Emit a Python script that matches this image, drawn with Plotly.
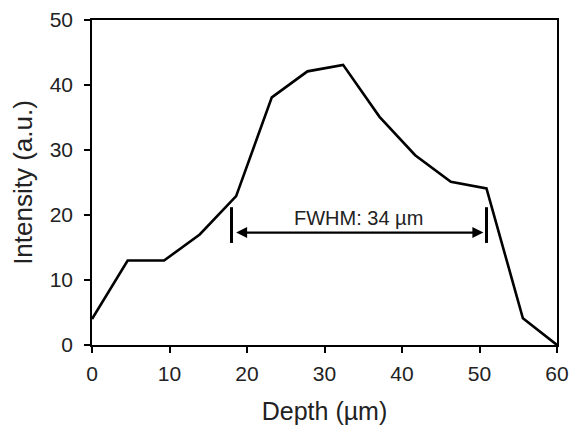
import plotly.graph_objects as go

depth = [0, 4.6, 9.3, 13.9, 18.6, 23.2, 27.8, 32.4, 37.1, 41.7, 46.3, 50.9, 55.6, 60]
intensity = [4, 13, 13, 17, 22.9, 38.1, 42.1, 43.1, 35.1, 29.2, 25.1, 24.1, 4.1, 0]

fwhm_left = 18.0
fwhm_right = 50.9
fwhm_level = 17.3
bar_low = 15.7
bar_high = 21.2
fwhm_label = "FWHM: 34 µm"

x_ticks = [0, 10, 20, 30, 40, 50, 60]
y_ticks = [0, 10, 20, 30, 40, 50]

FONT = "Liberation Sans, Arial, sans-serif"

fig = go.Figure()
fig.add_trace(go.Scatter(x=depth, y=intensity, mode="lines",
                         line=dict(color="black", width=2.6), showlegend=False,
                         hoverinfo="skip"))
for xb in (fwhm_left, fwhm_right):
    fig.add_trace(go.Scatter(x=[xb, xb], y=[bar_low, bar_high], mode="lines",
                             line=dict(color="black", width=3), showlegend=False,
                             hoverinfo="skip"))

fig.add_annotation(x=fwhm_right - 0.4, y=fwhm_level, ax=fwhm_left + 0.4, ay=fwhm_level,
                   xref="x", yref="y", axref="x", ayref="y", text="",
                   showarrow=True, arrowhead=2, startarrowhead=2, arrowside="end+start",
                   arrowsize=1, arrowwidth=2.2, arrowcolor="black")
fig.add_annotation(x=(fwhm_left + fwhm_right) / 2, y=fwhm_level, yshift=2,
                   xref="x", yref="y", text=fwhm_label, showarrow=False,
                   yanchor="bottom", font=dict(family=FONT, size=20, color="#222"))

axis_common = dict(showline=True, linecolor="black", linewidth=1.5, mirror=True,
                   ticks="outside", ticklen=6, tickwidth=1.5, tickcolor="black",
                   showgrid=False, zeroline=False, automargin=False,
                   tickfont=dict(family=FONT, size=21, color="#222"))

fig.update_xaxes(range=[0, 60], tickvals=x_ticks, ticklabelstandoff=3,
                 title=dict(text="Depth (µm)",
                            font=dict(family=FONT, size=25, color="#222"), standoff=19),
                 **axis_common)
fig.update_yaxes(range=[0, 50], tickvals=y_ticks, ticklabelstandoff=7,
                 title=dict(text="Intensity (a.u.)",
                            font=dict(family=FONT, size=26, color="#222"), standoff=10),
                 **axis_common)

fig.update_layout(width=574, height=434, margin=dict(l=92, r=17, t=20, b=89),
                  plot_bgcolor="white", paper_bgcolor="white")

fig.write_html("out.html", config={"displayModeBar": False, "responsive": False},
               post_script="document.body.style.margin='0';document.body.style.overflow='hidden';")
